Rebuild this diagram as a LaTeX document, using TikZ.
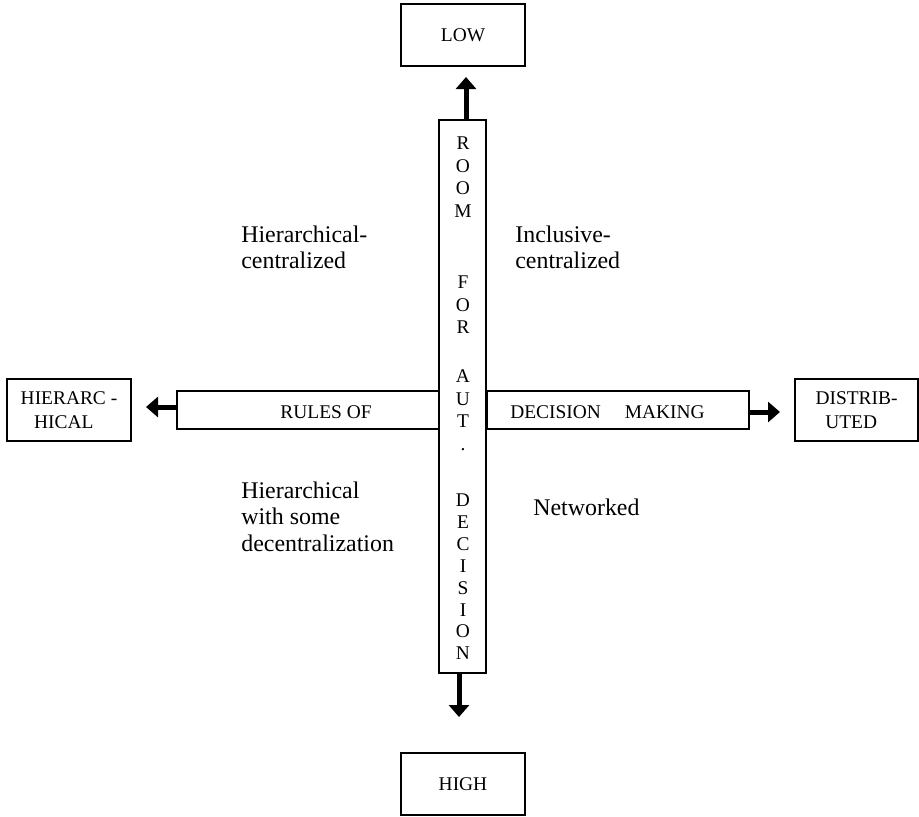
\documentclass[tikz,border=0pt]{standalone}
\usepackage{fontspec}
\setmainfont{Liberation Serif}
\usetikzlibrary{arrows.meta}
\begin{document}
\begin{tikzpicture}[x=0.02cm,y=-0.02cm,
  box/.style={draw, line width=0.75pt, inner sep=0pt, align=center, font=\fontsize{11.05}{13.6}\selectfont},
  capl/.style={font=\fontsize{11.05}{13.6}\selectfont, inner sep=0pt},
  body/.style={font=\fontsize{13.6}{15.6}\selectfont, inner sep=0pt, anchor=base west},
  arr/.style={line width=0.1cm, -{Triangle[length=0.24cm,width=0.4cm]}}]
\useasboundingbox (0,0) rectangle (919,816);
% boxes
\node[box, minimum width=2.48cm, minimum height=1.24cm] (low) at (463,35) {LOW};
\node[box, minimum width=2.48cm, minimum height=1.24cm] (high) at (463,784) {HIGH};
\node[box, minimum width=2.48cm, minimum height=1.24cm] (hier) at (69,410) {HIERARC -\\HICAL\hspace*{6pt}};
\node[box, minimum width=2.46cm, minimum height=1.24cm] (dist) at (856.5,410) {DISTRIB-\\UTED\hspace*{6pt}};
% bars
\node[box, minimum width=5.24cm, minimum height=0.76cm] (hl) at (308,410) {};
\node[box, minimum width=5.24cm, minimum height=0.76cm] (hr) at (618,410) {};
\node[box, minimum width=0.94cm, minimum height=11.06cm] (vb) at (462.5,396.5) {};
% bar texts
\node[capl, anchor=base east] (rules) at (372,418) {RULES OF};
\node[capl, anchor=base west] (decm) at (510,418) {DECISION\hspace{13.6pt}MAKING};
\foreach \ch/\yy [count=\i] in {R/143,O/165.5,O/188,M/210.5,F/282,O/304.5,R/327,A/376,U/398.5,T/421,./443.5,D/500,E/521.9,C/543.8,I/565.7,S/587.6,I/609.5,O/631.4,N/653.3}
  \node[capl, anchor=base] (L\i) at (463,\yy+6.5) {\ch};
% arrows
\coordinate (upTip) at (466,77);
\coordinate (dnTip) at (459,717);
\coordinate (lTip) at (146,407);
\coordinate (rTip) at (780,412);
\draw[arr] (vb.north -| upTip) -- (upTip);
\draw[arr] (vb.south -| dnTip) -- (dnTip);
\draw[arr] (hl.west |- lTip) -- (lTip);
\draw[arr] (hr.east |- rTip) -- (rTip);
% quadrant labels
\node[body] (hc1) at (241,242) {Hierarchical-};
\node[body] (hc2) at (241,268.5) {centralized};
\node[body] (ic1) at (515,242) {Inclusive-};
\node[body] (ic2) at (515,268.5) {centralized};
\node[body] (hw1) at (241,498) {Hierarchical};
\node[body] (hw2) at (241,524.5) {with some};
\node[body] (hw3) at (241,551) {decentralization};
\node[body] (net) at (533,515) {Networked};
\end{tikzpicture}
\end{document}
